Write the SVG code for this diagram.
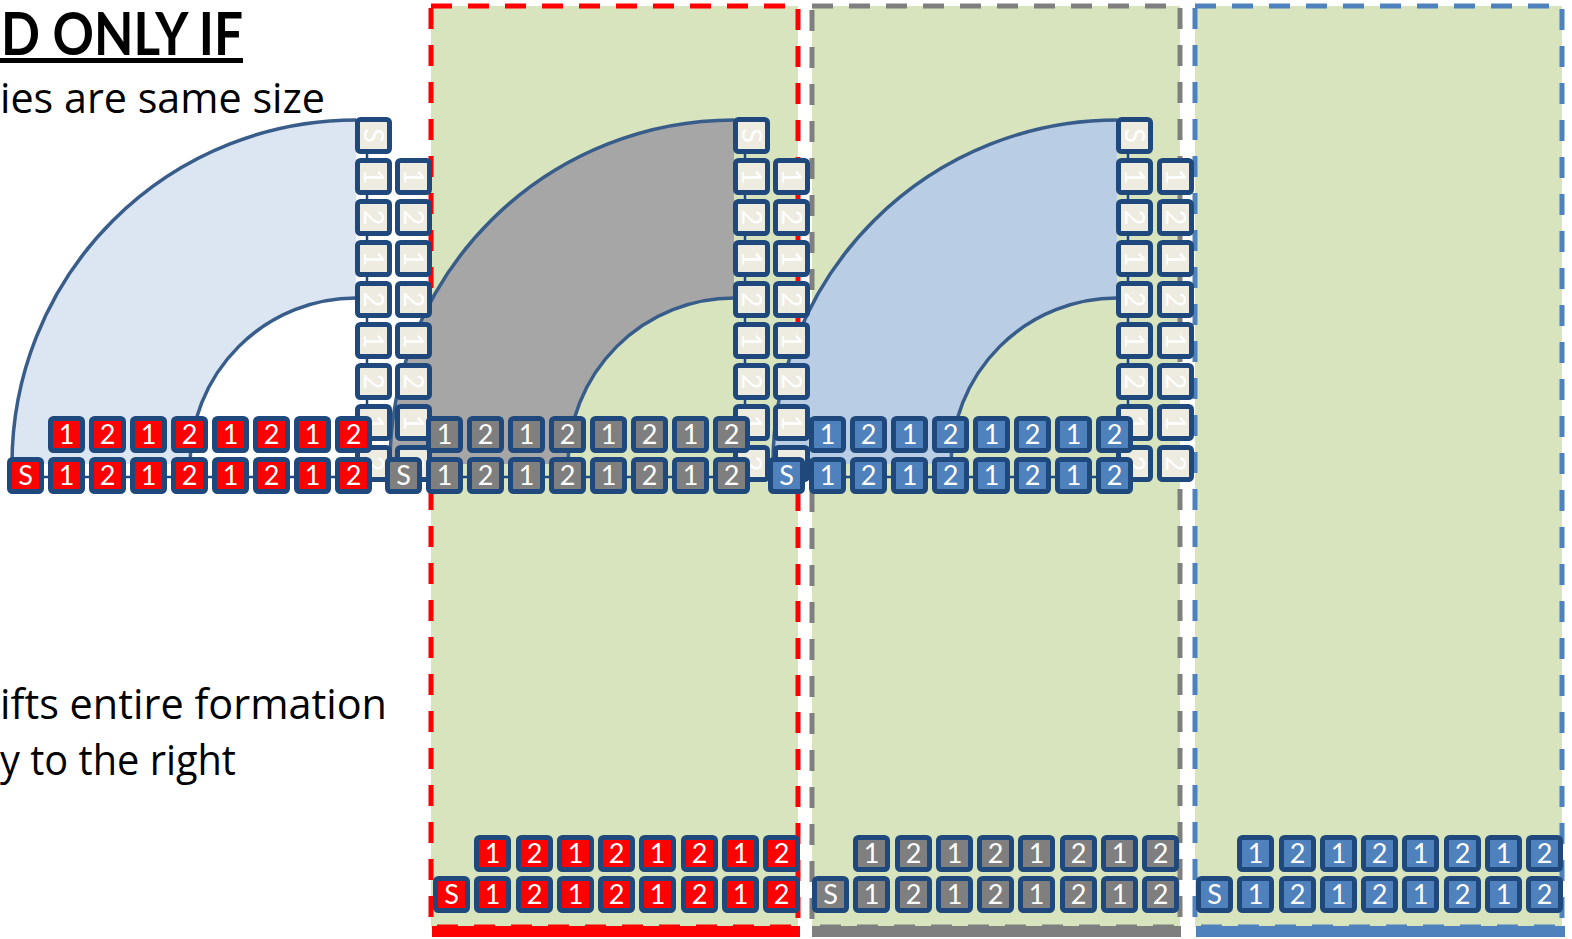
<svg xmlns="http://www.w3.org/2000/svg" width="1572" height="939" viewBox="0 0 1572 939">
<style>
.bx{stroke:#1F497D;stroke-width:5;stroke-linejoin:round}
.rd{fill:#FF0000}.gy{fill:#7F7F7F}.bl{fill:#4F81BD}.bg{fill:#EEECE1}
.tl{font-family:Lato,"Open Sans",sans-serif;font-size:27px;fill:#FFFFFF;text-anchor:middle}
.panel{fill:#D7E4BD;stroke-width:5;stroke-dasharray:21 16}
.arc{fill:none;stroke:#385D8A;stroke-width:3.5}
.cn{stroke:#1F497D;stroke-width:2.5;fill:none}
.txt{font-family:"Open Sans",Lato,sans-serif;fill:#000000}
</style>
<defs>
<g id="rS"><rect class="bx rd" x="2.5" y="2.5" width="32" height="32" rx="3"/><text class="tl" x="18.5" y="28">S</text></g>
<g id="r1"><rect class="bx rd" x="2.5" y="2.5" width="32" height="32" rx="3"/><text class="tl" x="18.5" y="28">1</text></g>
<g id="r2"><rect class="bx rd" x="2.5" y="2.5" width="32" height="32" rx="3"/><text class="tl" x="18.5" y="28">2</text></g>
<g id="gS"><rect class="bx gy" x="2.5" y="2.5" width="32" height="32" rx="3"/><text class="tl" x="18.5" y="28">S</text></g>
<g id="g1"><rect class="bx gy" x="2.5" y="2.5" width="32" height="32" rx="3"/><text class="tl" x="18.5" y="28">1</text></g>
<g id="g2"><rect class="bx gy" x="2.5" y="2.5" width="32" height="32" rx="3"/><text class="tl" x="18.5" y="28">2</text></g>
<g id="bS"><rect class="bx bl" x="2.5" y="2.5" width="32" height="32" rx="3"/><text class="tl" x="18.5" y="28">S</text></g>
<g id="b1"><rect class="bx bl" x="2.5" y="2.5" width="32" height="32" rx="3"/><text class="tl" x="18.5" y="28">1</text></g>
<g id="b2"><rect class="bx bl" x="2.5" y="2.5" width="32" height="32" rx="3"/><text class="tl" x="18.5" y="28">2</text></g>
<g id="vS"><rect class="bx bg" x="2.5" y="2.5" width="32" height="32" rx="3"/><text class="tl" x="18.5" y="28" transform="rotate(90 18.5 18.5)">S</text></g>
<g id="v1"><rect class="bx bg" x="2.5" y="2.5" width="32" height="32" rx="3"/><text class="tl" x="18.5" y="28" transform="rotate(90 18.5 18.5)">1</text></g>
<g id="v2"><rect class="bx bg" x="2.5" y="2.5" width="32" height="32" rx="3"/><text class="tl" x="18.5" y="28" transform="rotate(90 18.5 18.5)">2</text></g>
</defs>

<g id="text">
<text x="1" y="55" font-family="Lato, 'Open Sans', sans-serif" font-size="60" font-weight="bold" fill="#000000" textLength="242" lengthAdjust="spacingAndGlyphs">D ONLY IF</text>
<rect x="0" y="58" width="243" height="5" fill="#000000"/>
<text class="txt" x="0" y="113" font-size="42" textLength="325" lengthAdjust="spacingAndGlyphs">ies are same size</text>
<text class="txt" x="0" y="719" font-size="42" textLength="387" lengthAdjust="spacingAndGlyphs">ifts entire formation</text>
<text class="txt" x="0" y="775" font-size="42" textLength="236" lengthAdjust="spacingAndGlyphs">y to the right</text>
</g>

<g id="panels">
<rect id="panel-red" class="panel" x="431" y="6" width="367" height="921" stroke="#FF0000"/>
<rect x="432" y="926" width="368" height="11" fill="#FF0000"/>
<rect id="panel-gray" class="panel" x="812" y="6" width="368" height="921" stroke="#7F7F7F"/>
<rect x="812" y="926" width="369" height="11" fill="#7F7F7F"/>
<rect id="panel-blue" class="panel" x="1195" y="6" width="367" height="921" stroke="#4F81BD"/>
<rect x="1196" y="926" width="369" height="11" fill="#4F81BD"/>
</g>

<g id="bends">
<g id="bend-red">
<path d="M12 464 A344 344 0 0 1 356 120 L356 298 A166 166 0 0 0 190 464 Z" fill="#DCE6F2"/>
<path class="arc" d="M12 464 A344 344 0 0 1 356 120"/>
<path class="arc" d="M190 464 A166 166 0 0 1 356 298"/>
</g>
<g id="bend-gray" transform="translate(378,0)">
<path d="M12 464 A344 344 0 0 1 356 120 L356 298 A166 166 0 0 0 190 464 Z" fill="#A6A6A6"/>
<path class="arc" d="M12 464 A344 344 0 0 1 356 120"/>
<path class="arc" d="M190 464 A166 166 0 0 1 356 298"/>
</g>
<g id="bend-blue" transform="translate(761,0)">
<path d="M12 464 A344 344 0 0 1 356 120 L356 298 A166 166 0 0 0 190 464 Z" fill="#B9CDE5"/>
<path class="arc" d="M12 464 A344 344 0 0 1 356 120"/>
<path class="arc" d="M190 464 A166 166 0 0 1 356 298"/>
</g>
</g>

<g id="connectors">
<line class="cn" x1="25" y1="477" x2="353" y2="477"/>
<line class="cn" x1="367" y1="135" x2="367" y2="463"/>
<line class="cn" x1="403" y1="477" x2="731" y2="477"/>
<line class="cn" x1="745" y1="135" x2="745" y2="463"/>
<line class="cn" x1="786" y1="477" x2="1114" y2="477"/>
<line class="cn" x1="1128" y1="135" x2="1128" y2="463"/>
</g>

<g id="formation-red">
<g id="red-col-a">
<use href="#vS" x="355" y="117"/><use href="#v1" x="355" y="158"/><use href="#v2" x="355" y="199"/><use href="#v1" x="355" y="240"/><use href="#v2" x="355" y="281"/><use href="#v1" x="355" y="322"/><use href="#v2" x="355" y="363"/><use href="#v1" x="355" y="404"/><use href="#v2" x="355" y="445"/>
</g>
<g id="red-col-b">
<use href="#v1" x="395" y="158"/><use href="#v2" x="395" y="199"/><use href="#v1" x="395" y="240"/><use href="#v2" x="395" y="281"/><use href="#v1" x="395" y="322"/><use href="#v2" x="395" y="363"/><use href="#v1" x="395" y="404"/><use href="#v2" x="395" y="445"/>
</g>
<g id="red-row-top">
<use href="#r1" x="48" y="416"/><use href="#r2" x="89" y="416"/><use href="#r1" x="130" y="416"/><use href="#r2" x="171" y="416"/><use href="#r1" x="212" y="416"/><use href="#r2" x="253" y="416"/><use href="#r1" x="294" y="416"/><use href="#r2" x="335" y="416"/>
</g>
<g id="red-row-bottom">
<use href="#rS" x="7" y="457"/><use href="#r1" x="48" y="457"/><use href="#r2" x="89" y="457"/><use href="#r1" x="130" y="457"/><use href="#r2" x="171" y="457"/><use href="#r1" x="212" y="457"/><use href="#r2" x="253" y="457"/><use href="#r1" x="294" y="457"/><use href="#r2" x="335" y="457"/>
</g>
</g>

<g id="formation-gray" transform="translate(378,0)">
<g id="gray-col-a">
<use href="#vS" x="355" y="117"/><use href="#v1" x="355" y="158"/><use href="#v2" x="355" y="199"/><use href="#v1" x="355" y="240"/><use href="#v2" x="355" y="281"/><use href="#v1" x="355" y="322"/><use href="#v2" x="355" y="363"/><use href="#v1" x="355" y="404"/><use href="#v2" x="355" y="445"/>
</g>
<g id="gray-col-b">
<use href="#v1" x="395" y="158"/><use href="#v2" x="395" y="199"/><use href="#v1" x="395" y="240"/><use href="#v2" x="395" y="281"/><use href="#v1" x="395" y="322"/><use href="#v2" x="395" y="363"/><use href="#v1" x="395" y="404"/><use href="#v2" x="395" y="445"/>
</g>
<g id="gray-row-top">
<use href="#g1" x="48" y="416"/><use href="#g2" x="89" y="416"/><use href="#g1" x="130" y="416"/><use href="#g2" x="171" y="416"/><use href="#g1" x="212" y="416"/><use href="#g2" x="253" y="416"/><use href="#g1" x="294" y="416"/><use href="#g2" x="335" y="416"/>
</g>
<g id="gray-row-bottom">
<use href="#gS" x="7" y="457"/><use href="#g1" x="48" y="457"/><use href="#g2" x="89" y="457"/><use href="#g1" x="130" y="457"/><use href="#g2" x="171" y="457"/><use href="#g1" x="212" y="457"/><use href="#g2" x="253" y="457"/><use href="#g1" x="294" y="457"/><use href="#g2" x="335" y="457"/>
</g>
</g>

<g id="formation-blue" transform="translate(761,0)">
<g id="blue-col-a">
<use href="#vS" x="355" y="117"/><use href="#v1" x="355" y="158"/><use href="#v2" x="355" y="199"/><use href="#v1" x="355" y="240"/><use href="#v2" x="355" y="281"/><use href="#v1" x="355" y="322"/><use href="#v2" x="355" y="363"/><use href="#v1" x="355" y="404"/><use href="#v2" x="355" y="445"/>
</g>
<g id="blue-col-b">
<use href="#v1" x="396" y="158"/><use href="#v2" x="396" y="199"/><use href="#v1" x="396" y="240"/><use href="#v2" x="396" y="281"/><use href="#v1" x="396" y="322"/><use href="#v2" x="396" y="363"/><use href="#v1" x="396" y="404"/><use href="#v2" x="396" y="445"/>
</g>
<g id="blue-row-top">
<use href="#b1" x="48" y="416"/><use href="#b2" x="89" y="416"/><use href="#b1" x="130" y="416"/><use href="#b2" x="171" y="416"/><use href="#b1" x="212" y="416"/><use href="#b2" x="253" y="416"/><use href="#b1" x="294" y="416"/><use href="#b2" x="335" y="416"/>
</g>
<g id="blue-row-bottom">
<use href="#bS" x="7" y="457"/><use href="#b1" x="48" y="457"/><use href="#b2" x="89" y="457"/><use href="#b1" x="130" y="457"/><use href="#b2" x="171" y="457"/><use href="#b1" x="212" y="457"/><use href="#b2" x="253" y="457"/><use href="#b1" x="294" y="457"/><use href="#b2" x="335" y="457"/>
</g>
</g>

<g id="result-red" transform="translate(433,835)">
<use href="#r1" x="41" y="0"/><use href="#r2" x="83" y="0"/><use href="#r1" x="124" y="0"/><use href="#r2" x="165" y="0"/><use href="#r1" x="206" y="0"/><use href="#r2" x="248" y="0"/><use href="#r1" x="289" y="0"/><use href="#r2" x="330" y="0"/>
<use href="#rS" x="0" y="41"/><use href="#r1" x="41" y="41"/><use href="#r2" x="83" y="41"/><use href="#r1" x="124" y="41"/><use href="#r2" x="165" y="41"/><use href="#r1" x="206" y="41"/><use href="#r2" x="248" y="41"/><use href="#r1" x="289" y="41"/><use href="#r2" x="330" y="41"/>
</g>
<g id="result-gray" transform="translate(812,835)">
<use href="#g1" x="41" y="0"/><use href="#g2" x="83" y="0"/><use href="#g1" x="124" y="0"/><use href="#g2" x="165" y="0"/><use href="#g1" x="206" y="0"/><use href="#g2" x="248" y="0"/><use href="#g1" x="289" y="0"/><use href="#g2" x="330" y="0"/>
<use href="#gS" x="0" y="41"/><use href="#g1" x="41" y="41"/><use href="#g2" x="83" y="41"/><use href="#g1" x="124" y="41"/><use href="#g2" x="165" y="41"/><use href="#g1" x="206" y="41"/><use href="#g2" x="248" y="41"/><use href="#g1" x="289" y="41"/><use href="#g2" x="330" y="41"/>
</g>
<g id="result-blue" transform="translate(1196,835)">
<use href="#b1" x="41" y="0"/><use href="#b2" x="83" y="0"/><use href="#b1" x="124" y="0"/><use href="#b2" x="165" y="0"/><use href="#b1" x="206" y="0"/><use href="#b2" x="248" y="0"/><use href="#b1" x="289" y="0"/><use href="#b2" x="330" y="0"/>
<use href="#bS" x="0" y="41"/><use href="#b1" x="41" y="41"/><use href="#b2" x="83" y="41"/><use href="#b1" x="124" y="41"/><use href="#b2" x="165" y="41"/><use href="#b1" x="206" y="41"/><use href="#b2" x="248" y="41"/><use href="#b1" x="289" y="41"/><use href="#b2" x="330" y="41"/>
</g>
</svg>
